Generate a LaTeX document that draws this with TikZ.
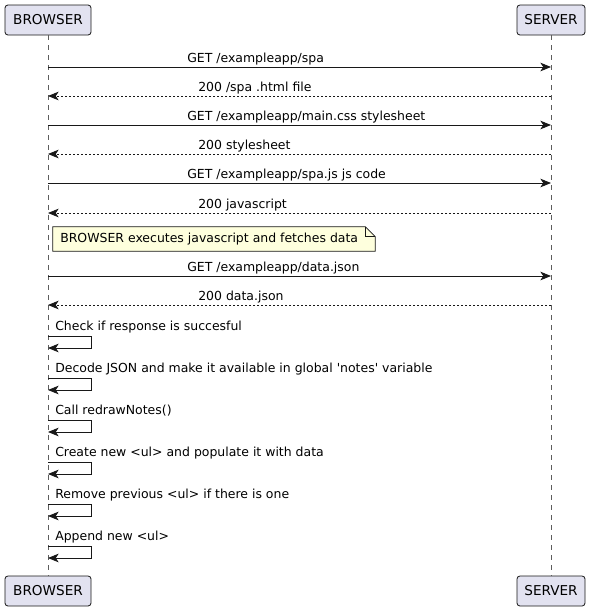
\documentclass[tikz,border=0pt]{standalone}
\usepackage{fontspec}
\setmainfont{DejaVu Sans}
\usetikzlibrary{arrows.meta}
\definecolor{pbg}{HTML}{E2E2F0}
\definecolor{ln}{HTML}{181818}
\definecolor{notebg}{HTML}{FEFFDD}
\newcommand\reqmsg[3]{%
  \draw[msg,-{Stealth[length=8pt,width=6.5pt,inset=2.2pt]}] (B.south |- 0,#1) -- (S.south |- 0,#1);
  \node[lbl,anchor=base west] (#2) at (187,#1-5) {#3};}
\newcommand\respmsg[3]{%
  \draw[msg,dotline,-{Stealth[length=8pt,width=6.5pt,inset=2.2pt]}] (S.south |- 0,#1) -- (B.south |- 0,#1);
  \node[lbl,anchor=base west] (#2) at (198,#1-5) {#3};}
\newcommand\selfmsg[3]{%
  \draw[msg,-{Stealth[length=8pt,width=6.5pt,inset=2.2pt]}] (B.south |- 0,#1) -- (91,#1) -- (91,#1+12) -- (B.south |- 0,#1+12);
  \node[lbl,anchor=base west] (#2) at (55,#1-5.5) {#3};}
\begin{document}
\begin{tikzpicture}[x=0.75pt,y=-0.75pt,
  part/.style={draw=ln,fill=pbg,rounded corners=2.2pt,line width=0.6pt,inner sep=0pt,minimum height=22.5pt,font=\fontsize{10.2}{12}\selectfont},
  lbl/.style={inner sep=0pt,font=\fontsize{9.35}{12}\selectfont,text=black},
  msg/.style={draw=ln,line width=0.75pt},
  dotline/.style={dash pattern=on 1.5pt off 1.5pt},
  life/.style={draw=ln!70,line width=0.4pt,dash pattern=on 3.75pt off 3.75pt}]
\useasboundingbox (0,0) rectangle (592,611);
% participants
\node[part,minimum width=64.5pt] (B) at (48,20) {BROWSER};
\node[part,minimum width=51pt] (S) at (551,20) {SERVER};
\node[part,minimum width=64.5pt] (B2) at (48,591) {BROWSER};
\node[part,minimum width=51pt] (S2) at (551,591) {SERVER};
\draw[life] (B.south) -- (B2.north);
\draw[life] (S.south) -- (S2.north);
% messages
\reqmsg{67}{m1}{GET /exampleapp/spa}
\respmsg{96}{m2}{200 /spa .html file}
\reqmsg{125}{m3}{GET /exampleapp/main.css stylesheet}
\respmsg{154}{m4}{200 stylesheet}
\reqmsg{183}{m5}{GET /exampleapp/spa.js js code}
\respmsg{213}{m6}{200 javascript}
% note
\node[minimum width=241.5pt,minimum height=18pt,inner sep=0pt] (note) at (214,239) {};
\draw[ln,line width=0.5pt,fill=notebg] (note.north west) -- ([xshift=-7.5pt]note.north east) -- ([yshift=-7.5pt]note.north east) -- (note.south east) -- (note.south west) -- cycle;
\draw[ln,line width=0.5pt] ([xshift=-7.5pt]note.north east) -- ([xshift=-7.5pt,yshift=-7.5pt]note.north east) -- ([yshift=-7.5pt]note.north east);
\node[lbl,anchor=west] (notetext) at (60,239.5) {BROWSER executes javascript and fetches data};
\reqmsg{276}{m7}{GET /exampleapp/data.json}
\respmsg{305}{m8}{200 data.json}
% self messages
\selfmsg{336}{s1}{Check if response is succesful}
\selfmsg{378}{s2}{Decode JSON and make it available in global \textquotesingle notes\textquotesingle\ variable}
\selfmsg{420}{s3}{Call redrawNotes()}
\selfmsg{462}{s4}{Create new <ul> and populate it with data}
\selfmsg{504}{s5}{Remove previous <ul> if there is one}
\selfmsg{546}{s6}{Append new <ul>}
\end{tikzpicture}
\end{document}
